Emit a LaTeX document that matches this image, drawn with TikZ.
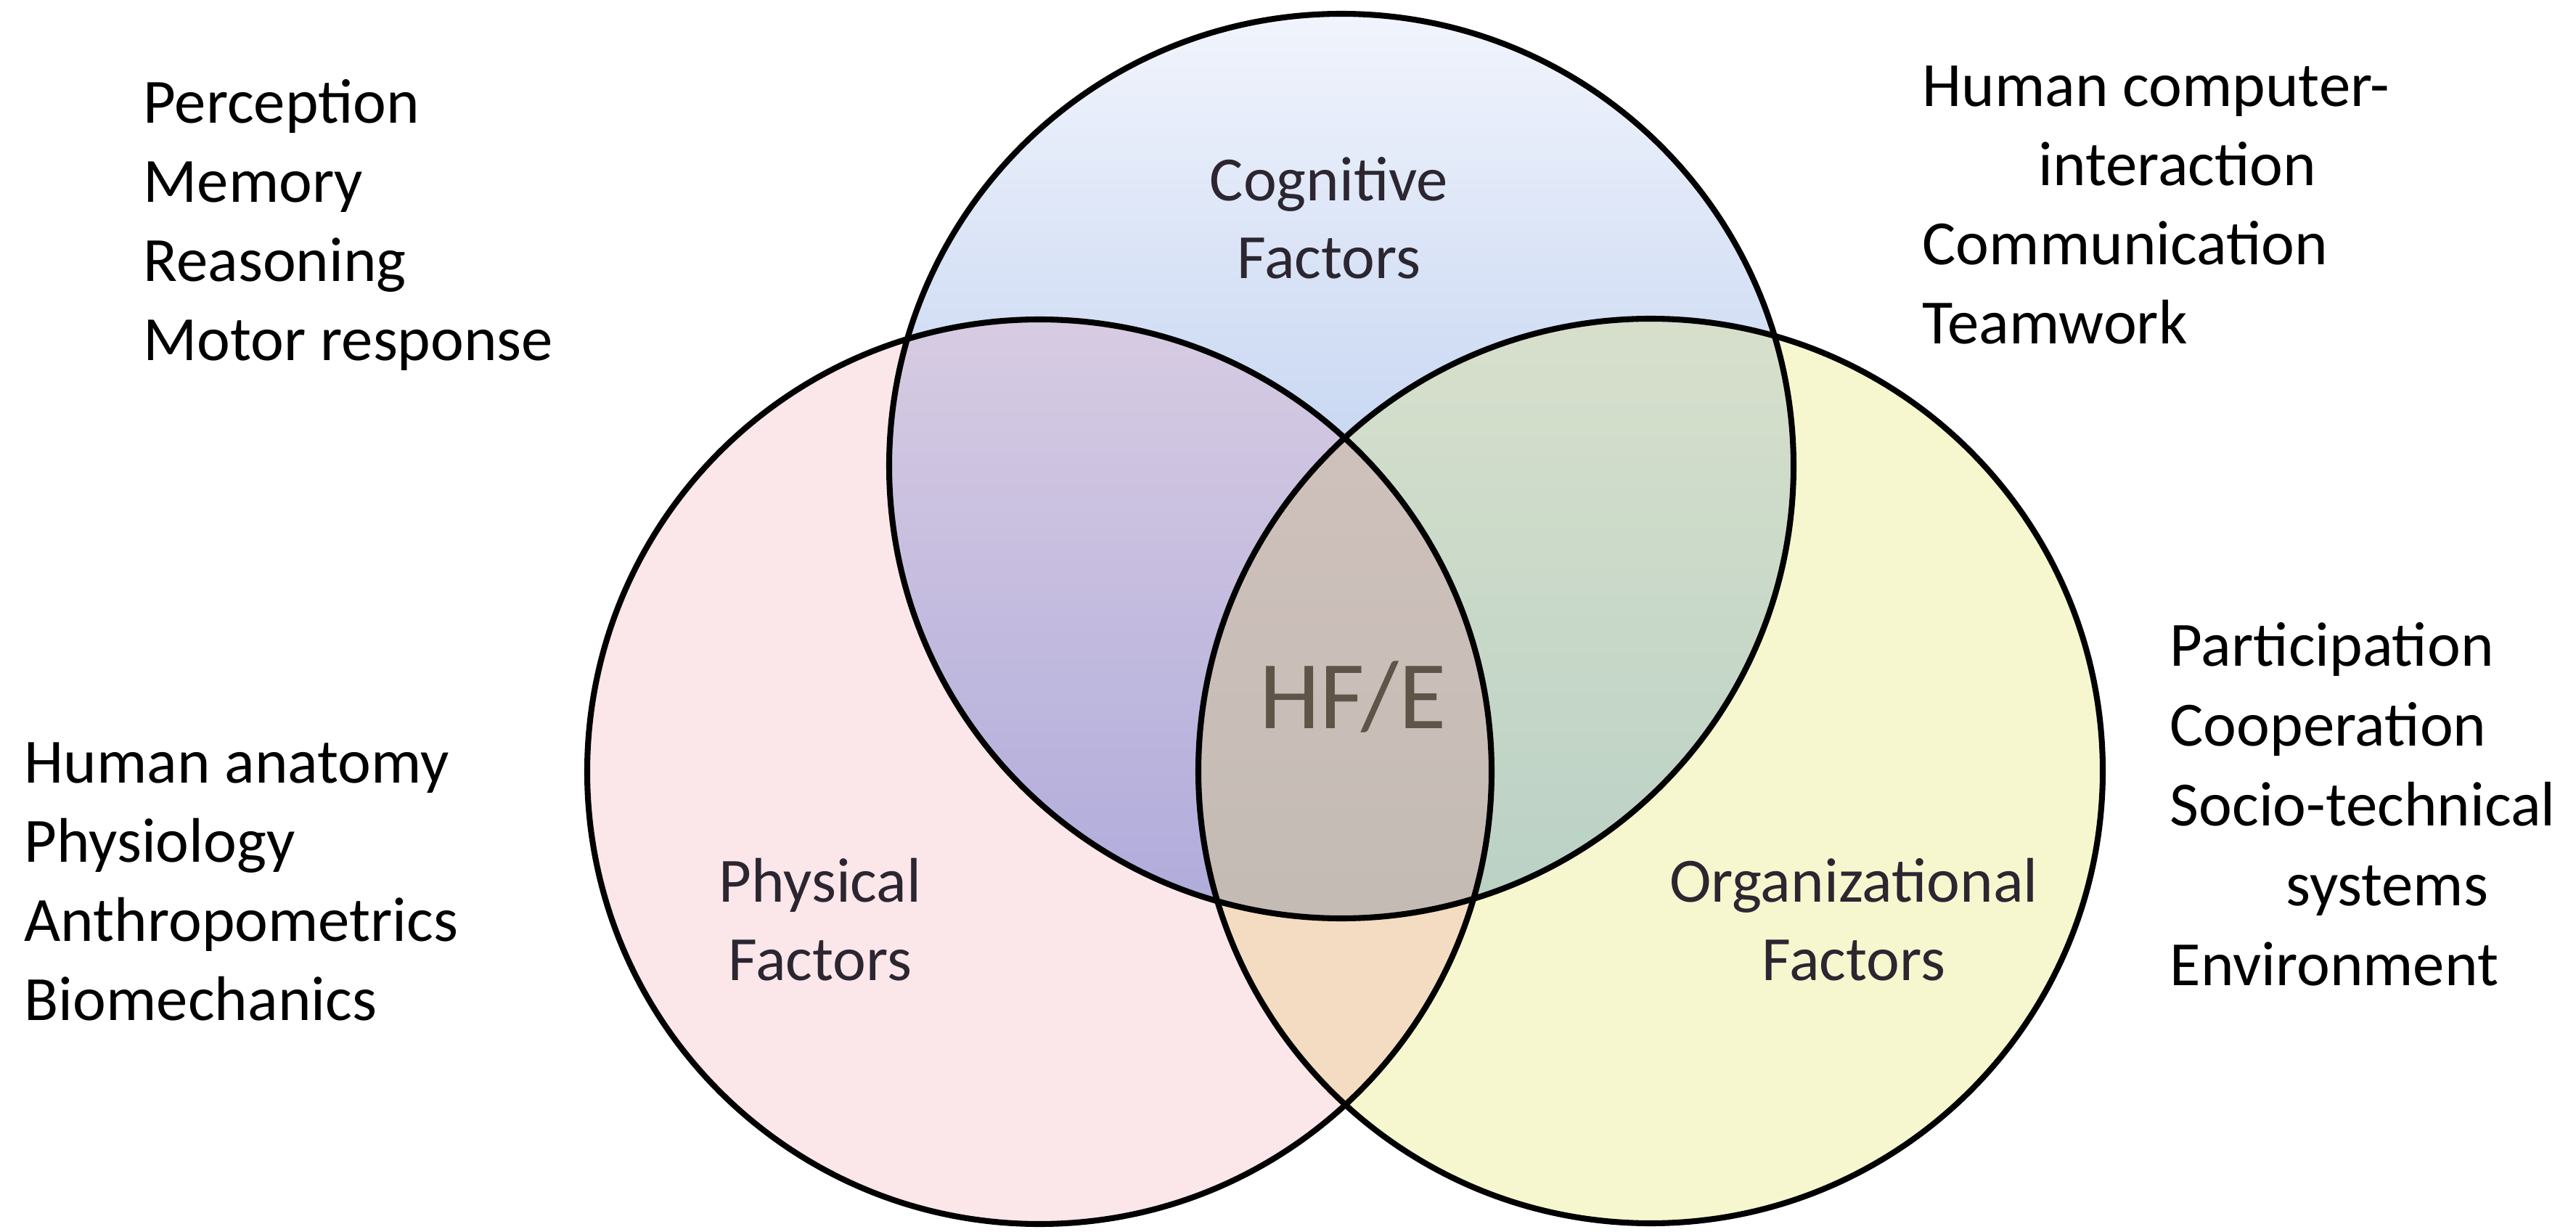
\documentclass[tikz,border=0pt]{standalone}
\usepackage{fontspec}
\setmainfont{Carlito}
\usetikzlibrary{calc}

\definecolor{cogtop}{HTML}{F1F4FC}
\definecolor{cogbot}{HTML}{9CB8E7}
\definecolor{physfill}{HTML}{FBE6EA}
\definecolor{orgfill}{HTML}{F6F7CE}
\definecolor{purptop}{HTML}{ECDCE6}
\definecolor{purpbot}{HTML}{AFABDB}
\definecolor{greentop}{HTML}{E7E7CF}
\definecolor{greenbot}{HTML}{B9D1C5}
\definecolor{peach}{HTML}{F4DCC2}
\definecolor{coretop}{HTML}{D8C5BF}
\definecolor{corebot}{HTML}{C4BBB5}
\definecolor{labelink}{HTML}{2B2630}
\definecolor{hfeink}{HTML}{5E5548}

\begin{document}
\begin{tikzpicture}[
    venn/.style={draw=black, line width=2.3pt},
    item/.style={anchor=base west, inner sep=0pt, font=\fontsize{24.7}{30.7}\selectfont},
    factor/.style={anchor=base, align=center, inner sep=0pt, text=labelink, font=\fontsize{24.7}{30.7}\selectfont}
]
    \useasboundingbox (0,0) rectangle (35.49,16.96);
    \pgfmathsetmacro{\vennrad}{6.23}

    % circle centres
    \coordinate (cog) at (18.48,10.54);
    \coordinate (phys) at (14.32,6.33);
    \coordinate (org) at (22.74,6.34);

    % circle fills
    \shade[top color=cogtop, bottom color=cogbot] (cog) circle (\vennrad);
    \fill[physfill] (phys) circle (\vennrad);
    \fill[orgfill] (org) circle (\vennrad);

    % overlaps
    \begin{scope}
        \clip (phys) circle (\vennrad);
        \shade[top color=purptop, bottom color=purpbot] (cog) circle (\vennrad);
    \end{scope}
    \begin{scope}
        \clip (org) circle (\vennrad);
        \shade[top color=greentop, bottom color=greenbot] (cog) circle (\vennrad);
    \end{scope}
    \begin{scope}
        \clip (phys) circle (\vennrad);
        \fill[peach] (org) circle (\vennrad);
    \end{scope}
    \begin{scope}
        \clip (phys) circle (\vennrad);
        \clip (org) circle (\vennrad);
        \shade[top color=coretop, bottom color=corebot] (cog) circle (\vennrad);
    \end{scope}

    % outlines
    \draw[venn] (cog) circle (\vennrad);
    \draw[venn] (phys) circle (\vennrad);
    \draw[venn] (org) circle (\vennrad);

    % circle labels (anchored on the last line)
    \node[factor] (coglabel) at (18.31,13.12) {Cognitive\\Factors};
    \node[factor] (physlabel) at (11.30,3.46) {Physical\\Factors};
    \node[factor] (orglabel) at (25.54,3.46) {Organizational\\Factors};
    \node[anchor=base, inner sep=0pt, text=hfeink, font=\fontsize{38}{46}\selectfont] (hfe) at (18.64,6.93) {HF/E};

    % cognitive topics
    \foreach \t [count=\i from 0] in {Perception, Memory, Reasoning, Motor response} {
        \node[item] (cogitem\i) at ($(1.97,15.26) - \i*(0,1.09)$) {\t};
    }

    % topics between cognitive and organizational
    \foreach \t [count=\i from 0] in {Human computer-, {\hspace*{1.6cm}interaction}, Communication, Teamwork} {
        \node[item] (linkitem\i) at ($(26.48,15.49) - \i*(0,1.09)$) {\t};
    }

    % physical topics
    \foreach \t [count=\i from 0] in {Human anatomy, Physiology, Anthropometrics, Biomechanics} {
        \node[item] (physitem\i) at ($(0.33,6.18) - \i*(0,1.09)$) {\t};
    }

    % organizational topics
    \foreach \t [count=\i from 0] in {Participation, Cooperation, Socio-technical, {\hspace*{1.6cm}systems}, Environment} {
        \node[item] (orgitem\i) at ($(29.89,7.79) - \i*(0,1.10)$) {\t};
    }
\end{tikzpicture}
\end{document}
